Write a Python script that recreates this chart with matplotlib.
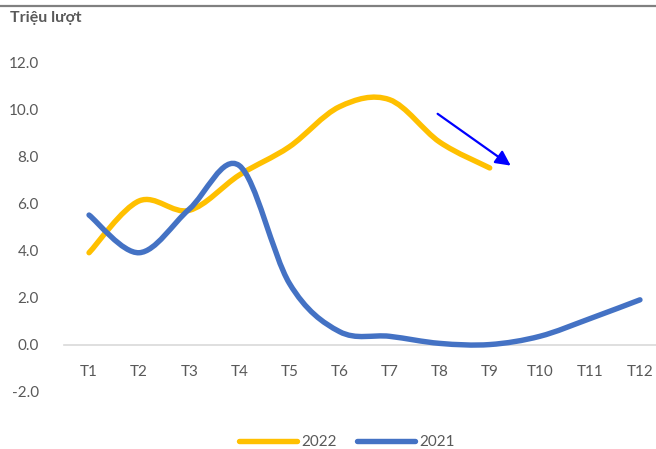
import matplotlib
matplotlib.use("Agg")
import matplotlib.pyplot as plt
from matplotlib.path import Path
from matplotlib.patches import PathPatch
from matplotlib.lines import Line2D
import numpy as np

plt.rcParams['font.family'] = ['Lato', 'Noto Sans', 'DejaVu Sans']

months = ["T1", "T2", "T3", "T4", "T5", "T6", "T7", "T8", "T9", "T10", "T11", "T12"]
v2022 = [3.9, 6.1, 5.7, 7.2, 8.4, 10.1, 10.4, 8.6, 7.5]
v2021 = [5.5, 3.9, 5.75, 7.6, 2.6, 0.55, 0.35, 0.05, 0.0, 0.35, 1.1, 1.9]
yticks = [-2, 0, 2, 4, 6, 8, 10, 12]
title = "Triệu lượt"

C22 = "#FFC000"
C21 = "#4472C4"
GREY = "#595959"

W, H = 656, 449
fig = plt.figure(figsize=(W / 100, H / 100), dpi=100)
ax = fig.add_axes([64 / W, (449 - 394) / H, 601 / W, (394 - 62) / H])


def smooth_path(ys):
    xs = np.arange(len(ys), dtype=float)
    pts = np.column_stack([xs, np.array(ys, dtype=float)])
    n = len(pts)
    verts = [pts[0]]
    codes = [Path.MOVETO]
    for i in range(n - 1):
        p0 = pts[i - 1] if i > 0 else pts[i]
        p1 = pts[i]
        p2 = pts[i + 1]
        p3 = pts[i + 2] if i + 2 < n else pts[i + 1]
        c1 = p1 + (p2 - p0) / 6.0
        c2 = p2 - (p3 - p1) / 6.0
        verts += [c1, c2, p2]
        codes += [Path.CURVE4] * 3
    return Path(verts, codes)


lw = 3.9
for vals, col, z in [(v2022, C22, 3), (v2021, C21, 4)]:
    patch = PathPatch(smooth_path(vals), facecolor="none", edgecolor=col,
                      lw=lw, capstyle="round", joinstyle="round", zorder=z)
    ax.add_patch(patch)

ax.set_xlim(-0.5, 11.5)
ax.set_ylim(-2.1, 12)
ax.set_yticks(yticks)
ax.set_yticklabels([f"{t:.1f}" for t in yticks])
ax.set_xticks(range(len(months)))
ax.set_xticklabels(months)

for s in ["top", "right", "left"]:
    ax.spines[s].set_visible(False)
ax.spines["bottom"].set_position(("data", 0))
ax.spines["bottom"].set_color("#D9D9D9")
ax.spines["bottom"].set_linewidth(1.2)
ax.tick_params(axis="both", length=0, labelsize=11, colors=GREY)
ax.tick_params(axis="x", pad=15)
ax.tick_params(axis="y", pad=18)

# trend arrow
ax.annotate("", xy=(8.42, 7.6), xytext=(6.96, 9.8),
            arrowprops=dict(arrowstyle="-|>,head_length=0.9,head_width=0.45",
                            color="#0000FF", lw=1.6, shrinkA=0, shrinkB=0),
            zorder=5)

fig.text(10 / W, 1 - 18 / H, title, fontsize=11.5, fontweight="bold",
         color=GREY, va="center", ha="left")

# top border line
fig.add_artist(Line2D([0, 1], [1 - 6 / H, 1 - 6 / H], color="#808080", lw=1.6))

handles = [Line2D([], [], color=C22, lw=lw, solid_capstyle="round"),
           Line2D([], [], color=C21, lw=lw, solid_capstyle="round")]
fig.legend(handles, ["2022", "2021"], loc="center", bbox_to_anchor=(347 / W, 1 - 442 / H),
           ncol=2, frameon=False, fontsize=11, handlelength=3.8, handletextpad=0.3,
           columnspacing=1.3, labelcolor=GREY)

fig.savefig("out.png", dpi=100)
